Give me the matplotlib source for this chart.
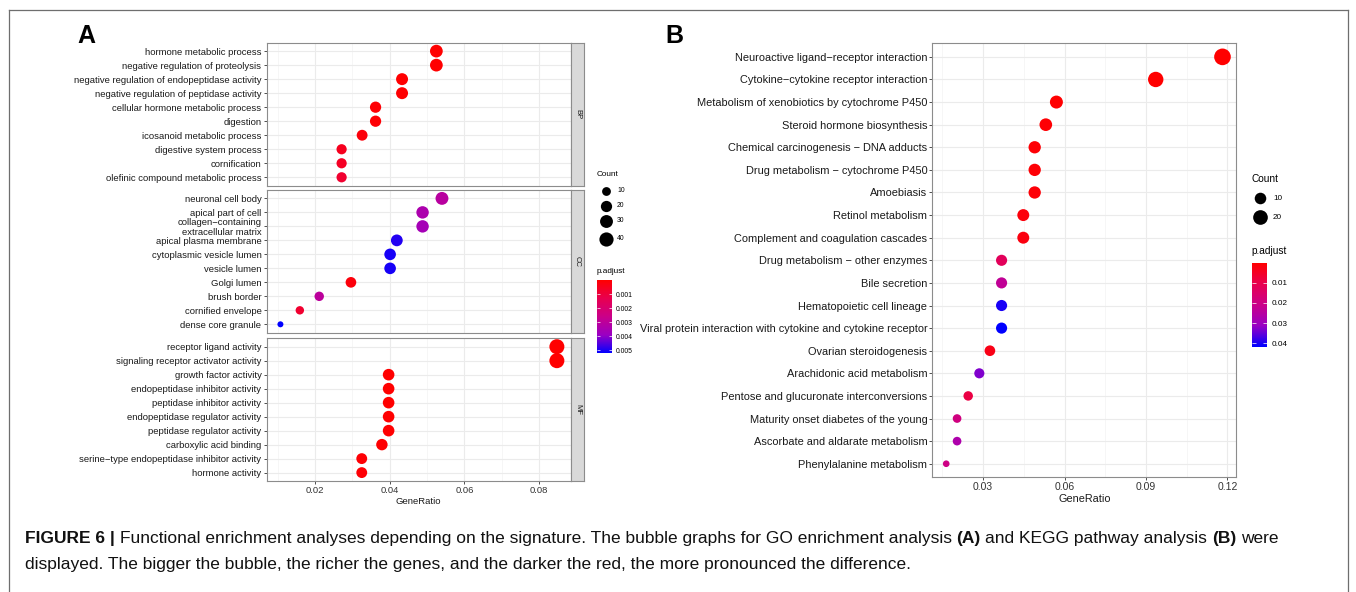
import matplotlib
matplotlib.use("Agg")
import matplotlib.pyplot as plt
import numpy as np
from matplotlib.cm import ScalarMappable
from matplotlib.colors import LinearSegmentedColormap, Normalize
from matplotlib.lines import Line2D

W, H = 1356, 592
plt.rcParams["font.family"] = ["Liberation Sans", "DejaVu Sans"]

# ---- panel A: GO enrichment, one facet per ontology ----
bp_terms = ["hormone metabolic process", "negative regulation of proteolysis",
            "negative regulation of endopeptidase activity",
            "negative regulation of peptidase activity",
            "cellular hormone metabolic process", "digestion",
            "icosanoid metabolic process", "digestive system process",
            "cornification", "olefinic compound metabolic process"]
bp_ratio = [0.0525, 0.0525, 0.0433, 0.0433, 0.0362, 0.0362, 0.0326, 0.0271, 0.0271, 0.0271]
bp_count = [29, 29, 24, 24, 20, 20, 18, 15, 15, 15]
bp_padj = [0.00002, 0.00003, 0.00004, 0.00005, 0.0001, 0.0001, 0.0002, 0.0005, 0.0006, 0.0008]

cc_terms = ["neuronal cell body", "apical part of cell",
            "collagen\u2212containing\nextracellular matrix", "apical plasma membrane",
            "cytoplasmic vesicle lumen", "vesicle lumen", "Golgi lumen",
            "brush border", "cornified envelope", "dense core granule"]
cc_ratio = [0.0540, 0.0488, 0.0488, 0.0419, 0.0401, 0.0401, 0.0296, 0.0211, 0.0159, 0.0107]
cc_count = [30, 27, 27, 23, 22, 22, 17, 12, 9, 6]
cc_padj = [0.0031, 0.0034, 0.0036, 0.0049, 0.0050, 0.0050, 0.0002, 0.0030, 0.0008, 0.0052]

mf_terms = ["receptor ligand activity", "signaling receptor activator activity",
            "growth factor activity", "endopeptidase inhibitor activity",
            "peptidase inhibitor activity", "endopeptidase regulator activity",
            "peptidase regulator activity", "carboxylic acid binding",
            "serine\u2212type endopeptidase inhibitor activity", "hormone activity"]
mf_ratio = [0.0848, 0.0848, 0.0397, 0.0397, 0.0397, 0.0397, 0.0397, 0.0379, 0.0325, 0.0325]
mf_count = [47, 47, 22, 22, 22, 22, 22, 21, 18, 18]
mf_padj = [0.000001, 0.000002, 0.00002, 0.00002, 0.00002, 0.00003, 0.00003, 0.00005, 0.0001, 0.0001]

go_ticks = [0.02, 0.04, 0.06, 0.08]
go_minor = [0.01, 0.03, 0.05, 0.07]
go_count_breaks = [10, 20, 30, 40]
go_padj_breaks = [0.001, 0.002, 0.003, 0.004, 0.005]

# ---- panel B: KEGG pathways ----
kegg_terms = ["Neuroactive ligand\u2212receptor interaction",
              "Cytokine\u2212cytokine receptor interaction",
              "Metabolism of xenobiotics by cytochrome P450",
              "Steroid hormone biosynthesis",
              "Chemical carcinogenesis \u2212 DNA adducts",
              "Drug metabolism \u2212 cytochrome P450", "Amoebiasis",
              "Retinol metabolism", "Complement and coagulation cascades",
              "Drug metabolism \u2212 other enzymes", "Bile secretion",
              "Hematopoietic cell lineage",
              "Viral protein interaction with cytokine and cytokine receptor",
              "Ovarian steroidogenesis", "Arachidonic acid metabolism",
              "Pentose and glucuronate interconversions",
              "Maturity onset diabetes of the young",
              "Ascorbate and aldarate metabolism", "Phenylalanine metabolism"]
kegg_ratio = [0.1182, 0.0936, 0.0570, 0.0531, 0.0490, 0.0490, 0.0490, 0.0448, 0.0448,
              0.0368, 0.0368, 0.0368, 0.0368, 0.0325, 0.0286, 0.0245, 0.0204, 0.0204, 0.0164]
kegg_count = [29, 23, 14, 13, 12, 12, 12, 11, 11, 9, 9, 9, 9, 8, 7, 6, 5, 5, 4]
kegg_padj = [0.000001, 0.00001, 0.0002, 0.0005, 0.0008, 0.0008, 0.001, 0.0015, 0.002,
             0.0125, 0.023, 0.040, 0.0417, 0.003, 0.033, 0.009, 0.019, 0.027, 0.020]

kegg_ticks = [0.03, 0.06, 0.09, 0.12]
kegg_minor = [0.015, 0.045, 0.075, 0.105]
kegg_count_breaks = [10, 20]
kegg_padj_breaks = [0.01, 0.02, 0.03, 0.04]

# red -> blue through Lab-ish purples (ggplot low="red", high="blue")
cmap = LinearSegmentedColormap.from_list(
    "padj", ["#FF0000", "#E8004F", "#CA0089", "#9A00C3", "#0000FF"])

fig = plt.figure(figsize=(W / 100, H / 100), dpi=100)
ov = fig.add_axes([0, 0, 1, 1])
ov.set_xlim(0, W)
ov.set_ylim(H, 0)
ov.axis("off")


def axes_px(x0, y0, x1, y1):
    return fig.add_axes([x0 / W, 1 - y1 / H, (x1 - x0) / W, (y1 - y0) / H])


def dot_area(count, cmin, cmax, px_unit):
    # ggplot-like scale_size(range = c(3, 8)) on the area
    c = np.asarray(count, dtype=float)
    size = 3 + 5 * np.sqrt((c - cmin) / (cmax - cmin))
    return ((size + 0.33) * px_unit * 0.72) ** 2


def padded(vals):
    lo, hi = min(vals), max(vals)
    pad = (hi - lo) * 0.05
    return lo - pad, hi + pad


def style_panel(ax, terms, xlim, major, minor, lab_size, tick_size, show_x):
    n = len(terms)
    ax.set_xlim(xlim)
    ax.set_ylim(n - 0.4, -0.6)
    ax.set_yticks(range(n))
    ax.set_yticklabels(terms, fontsize=lab_size, color="#1A1A1A", linespacing=1.05)
    ax.set_xticks(major)
    ax.set_xticks(minor, minor=True)
    ax.grid(which="major", color="#EBEBEB", lw=0.8)
    ax.grid(which="minor", axis="x", color="#F3F3F3", lw=0.5)
    ax.set_axisbelow(True)
    for s in ax.spines.values():
        s.set_color("#8C8C8C")
        s.set_linewidth(0.8)
    ax.tick_params(which="major", length=2.2, width=0.6, color="#333333", pad=1.5)
    ax.tick_params(which="minor", length=0)
    ax.tick_params(axis="x", labelsize=tick_size, labelcolor="#333333")
    if show_x:
        ax.set_xticklabels([f"{t:.2f}" for t in major])
    else:
        ax.tick_params(axis="x", labelbottom=False, length=0)


# ---- panel A ----
go_all_ratio = bp_ratio + cc_ratio + mf_ratio
go_all_count = bp_count + cc_count + mf_count
go_all_padj = bp_padj + cc_padj + mf_padj
go_xlim = padded(go_all_ratio)
go_norm = Normalize(min(go_all_padj), max(go_all_padj))
go_cmin, go_cmax = min(go_all_count), max(go_all_count)
A_UNIT = 1.8

facets = [("BP", bp_terms, bp_ratio, bp_count, bp_padj, 42.7, 185.7),
          ("CC", cc_terms, cc_ratio, cc_count, cc_padj, 190.0, 332.7),
          ("MF", mf_terms, mf_ratio, mf_count, mf_padj, 338.3, 481.0)]
for i, (name, terms, ratio, count, padj, y0, y1) in enumerate(facets):
    ax = axes_px(266.6, y0, 570.7, y1)
    ax.scatter(ratio, range(len(terms)), s=dot_area(count, go_cmin, go_cmax, A_UNIT),
               c=padj, cmap=cmap, norm=go_norm, linewidths=0, zorder=3)
    style_panel(ax, terms, go_xlim, go_ticks, go_minor, 6.8, 6.8, i == 2)
    if i == 2:
        ax.set_xlabel("GeneRatio", fontsize=6.8, labelpad=1, color="#1A1A1A")
    st = axes_px(570.7, y0, 584.1, y1)
    st.set_facecolor("#D9D9D9")
    st.set_xticks([])
    st.set_yticks([])
    for s in st.spines.values():
        s.set_color("#8C8C8C")
        s.set_linewidth(0.8)
    st.text(0.5, 0.5, name, rotation=-90, ha="center", va="center",
            fontsize=5.5, color="#1A1A1A", transform=st.transAxes)

# count legend A
ov.text(597, 175, "Count", fontsize=5.9, va="center", ha="left")
for val, y in zip(go_count_breaks, [190.7, 205.7, 221.0, 238.7]):
    ov.scatter([606], [y], s=dot_area(val, go_cmin, go_cmax, A_UNIT), color="black",
               linewidths=0)
    ov.text(617, y, str(val), fontsize=4.9, va="center", ha="left")

ov.text(597, 271.7, "p.adjust", fontsize=5.9, va="center", ha="left")
cax = axes_px(597.3, 280.0, 611.7, 353.3)
cb = fig.colorbar(ScalarMappable(norm=go_norm, cmap=cmap), cax=cax)
cb.outline.set_visible(False)
cb.set_ticks(go_padj_breaks)
cb.set_ticklabels([f"{v:.3f}" for v in go_padj_breaks])
cax.invert_yaxis()
cax.tick_params(axis="y", direction="in", length=2.5, width=0.5, color="white",
                left=True, right=True, labelsize=4.9, pad=3)

# ---- panel B ----
kg_xlim = padded(kegg_ratio)
kg_norm = Normalize(min(kegg_padj), max(kegg_padj))
kg_cmin, kg_cmax = min(kegg_count), max(kegg_count)
B_UNIT = 2.0

axb = axes_px(932.4, 43.3, 1236.3, 477.3)
axb.scatter(kegg_ratio, range(len(kegg_terms)),
            s=dot_area(kegg_count, kg_cmin, kg_cmax, B_UNIT),
            c=kegg_padj, cmap=cmap, norm=kg_norm, linewidths=0, zorder=3)
style_panel(axb, kegg_terms, kg_xlim, kegg_ticks, kegg_minor, 7.9, 7.5, True)
axb.set_xlabel("GeneRatio", fontsize=7.8, labelpad=1, color="#1A1A1A")

ov.text(1251, 179.3, "Count", fontsize=7.3, va="center", ha="left")
for val, y in zip(kegg_count_breaks, [198.3, 217.3]):
    ov.scatter([1260], [y], s=dot_area(val, kg_cmin, kg_cmax, B_UNIT), color="black",
               linewidths=0)
    ov.text(1273, y, str(val), fontsize=5.9, va="center", ha="left")

ov.text(1251, 250.7, "p.adjust", fontsize=7.3, va="center", ha="left")
cbx = axes_px(1251.7, 262.7, 1267.3, 346.7)
cb2 = fig.colorbar(ScalarMappable(norm=kg_norm, cmap=cmap), cax=cbx)
cb2.outline.set_visible(False)
cb2.set_ticks(kegg_padj_breaks)
cb2.set_ticklabels([f"{v:.2f}" for v in kegg_padj_breaks])
cbx.invert_yaxis()
cbx.tick_params(axis="y", direction="in", length=3, width=0.5, color="white",
                left=True, right=True, labelsize=5.9, pad=3)

# panel letters
ov.text(86, 36, "A", fontsize=18, weight="bold", ha="center", va="center")
ov.text(674, 36, "B", fontsize=18, weight="bold", ha="center", va="center")

# frame around the figure
frame = dict(color="#6E6E6E", lw=0.9)
ov.add_line(Line2D([8.5, 8.5], [H, 9.5], **frame))
ov.add_line(Line2D([8.5, 1347.5], [9.5, 9.5], **frame))
ov.add_line(Line2D([1347.5, 1347.5], [9.5, H], **frame))

# caption with bold pieces chained one after another
CAP = 12.5
line1 = [("FIGURE 6 |", "bold"),
         ("Functional enrichment analyses depending on the signature. The bubble graphs "
          "for GO enrichment analysis", "normal"),
         ("(A)", "bold"), ("and KEGG pathway analysis", "normal"), ("(B)", "bold"),
         ("were", "normal")]
prev = ov.text(25, 546, line1[0][0], fontsize=CAP, weight=line1[0][1], va="bottom",
               ha="left", color="#111111")
for txt, wt in line1[1:]:
    prev = ov.annotate(txt, xy=(1, 0), xycoords=prev, xytext=(3.4, 0),
                       textcoords="offset points", fontsize=CAP, weight=wt,
                       va="bottom", ha="left", color="#111111")
ov.text(25, 572, "displayed. The bigger the bubble, the richer the genes, and the darker "
        "the red, the more pronounced the difference.", fontsize=CAP, va="bottom",
        ha="left", color="#111111")

fig.savefig("out.png", dpi=100)
